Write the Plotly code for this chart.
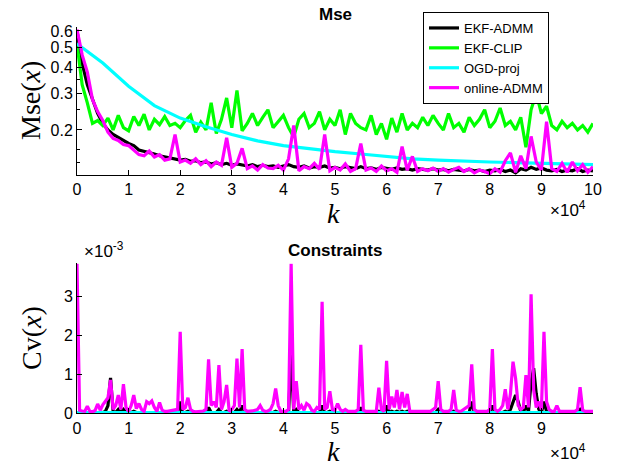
import math
import plotly.graph_objects as go

# ---------------- data ----------------
# top panel: k in units of 1e4, step 0.1
k_top = [i / 10 for i in range(101)]
k_cyan = [i / 2 for i in range(21)]

mse_ekf_admm = [
    0.6, 0.42, 0.33, 0.28, 0.24, 0.215, 0.2, 0.19, 0.183, 0.178,
    0.172, 0.168, 0.16, 0.158, 0.155, 0.153, 0.15, 0.148, 0.146, 0.145,
    0.143, 0.144, 0.141, 0.142, 0.139, 0.14, 0.137, 0.139, 0.136, 0.138,
    0.135, 0.137, 0.136, 0.134, 0.136, 0.133, 0.135, 0.133, 0.134, 0.132,
    0.134, 0.136, 0.133, 0.132, 0.134, 0.131, 0.133, 0.132, 0.134, 0.131,
    0.132, 0.13, 0.133, 0.131, 0.13, 0.133, 0.13, 0.131, 0.129, 0.132,
    0.13, 0.129, 0.131, 0.129, 0.13, 0.128, 0.13, 0.129, 0.128, 0.13,
    0.128, 0.129, 0.127, 0.129, 0.128, 0.127, 0.129, 0.127, 0.128, 0.126,
    0.128, 0.127, 0.129, 0.126, 0.128, 0.124, 0.13, 0.128, 0.132, 0.129,
    0.131, 0.128, 0.127, 0.129, 0.126, 0.128, 0.127, 0.13, 0.126, 0.128,
    0.127,
]
mse_ekf_clip = [
    0.52, 0.33, 0.27, 0.215, 0.222, 0.21, 0.228, 0.2, 0.235, 0.205,
    0.198, 0.232, 0.21, 0.238, 0.2, 0.225, 0.212, 0.232, 0.21, 0.215,
    0.205, 0.222, 0.235, 0.195, 0.218, 0.2, 0.27, 0.192, 0.225, 0.285,
    0.205, 0.31, 0.198, 0.215, 0.24, 0.21, 0.23, 0.25, 0.205, 0.22,
    0.235, 0.205, 0.185, 0.225, 0.24, 0.205, 0.215, 0.245, 0.2, 0.225,
    0.21, 0.25, 0.19, 0.24, 0.215, 0.205, 0.2, 0.235, 0.19, 0.215,
    0.18, 0.228, 0.195, 0.24, 0.2, 0.215, 0.205, 0.23, 0.21, 0.235,
    0.215, 0.2, 0.24, 0.205, 0.215, 0.195, 0.23, 0.21, 0.225, 0.25,
    0.205, 0.22, 0.255, 0.21, 0.22, 0.2, 0.23, 0.165, 0.25, 0.3,
    0.24, 0.26, 0.21, 0.2, 0.22, 0.205, 0.215, 0.2, 0.21, 0.195,
    0.215,
]
mse_ogd_proj = [
    0.52, 0.42, 0.325, 0.262, 0.228, 0.207, 0.19, 0.177, 0.168, 0.162,
    0.157, 0.153, 0.149, 0.145, 0.143, 0.141, 0.14, 0.139, 0.138, 0.137,
    0.136,
]
mse_online_admm = [
    0.61, 0.46, 0.38, 0.28, 0.245, 0.222, 0.195, 0.182, 0.178, 0.17,
    0.168, 0.16, 0.152, 0.15, 0.158, 0.148, 0.152, 0.143, 0.145, 0.19,
    0.14, 0.143, 0.138, 0.145, 0.136, 0.142, 0.133, 0.14, 0.135, 0.183,
    0.132, 0.138, 0.163, 0.13, 0.134, 0.128, 0.136, 0.131, 0.13, 0.135,
    0.128, 0.145, 0.21, 0.127, 0.133, 0.13, 0.138, 0.129, 0.19, 0.127,
    0.132, 0.128, 0.137, 0.126, 0.13, 0.172, 0.128, 0.131, 0.126, 0.134,
    0.127, 0.13, 0.125, 0.166, 0.128, 0.149, 0.126, 0.13, 0.127, 0.131,
    0.126, 0.13, 0.125, 0.129, 0.132, 0.126, 0.13, 0.124, 0.128, 0.126,
    0.123, 0.13, 0.125, 0.142, 0.155, 0.125, 0.15, 0.13, 0.186, 0.14,
    0.128, 0.219, 0.13, 0.126, 0.138, 0.125, 0.14, 0.127, 0.136, 0.125,
    0.133,
]

# bottom panel: k in units of 1e4, step 0.05 ; values in units of 1e-3
k_bot = [i / 20 for i in range(201)]
k_bot_cyan = [i for i in range(11)]

cv_online_admm = [
    3.85, 0.08, 0.06, 0.05, 0.18, 0.05, 0.04, 0.07, 0.24, 0.08,
    0.22, 0.32, 0.4, 0.86, 0.1, 0.2, 0.47, 0.1, 0.75, 0.15,
    0.05, 0.2, 0.47, 0.12, 0.25, 0.1, 0.05, 0.3, 0.25, 0.32,
    0.15, 0.05, 0.28, 0.08, 0.05, 0.05, 0.06, 0.07, 0.08, 0.1,
    2.1, 0.1, 0.15, 0.4, 0.1, 0.05, 0.04, 0.05, 0.05, 0.06,
    0.1, 1.39, 0.2, 0.3, 0.15, 1.24, 0.1, 0.3, 0.73, 0.05,
    0.1, 0.2, 1.41, 0.15, 1.65, 0.1, 0.05, 0.05, 0.06, 0.08,
    0.1, 0.2, 0.08, 0.05, 0.06, 0.1, 0.25, 0.64, 0.2, 0.05,
    0.04, 0.05, 0.1, 3.85, 0.1, 0.83, 0.1, 0.2, 0.08, 0.25,
    0.2, 0.08, 0.05, 0.15, 0.1, 2.87, 0.1, 0.15, 0.57, 0.1,
    0.08, 0.25, 0.1, 0.05, 0.1, 0.05, 0.05, 0.05, 0.05, 0.1,
    1.76, 0.08, 0.05, 0.05, 0.05, 0.05, 0.05, 0.66, 0.1, 0.05,
    1.35, 0.1, 0.43, 0.15, 0.6, 0.1, 0.55, 0.15, 0.5, 0.05,
    0.05, 0.05, 0.05, 0.05, 0.05, 0.05, 0.05, 0.05, 0.1, 0.15,
    0.83, 0.1, 0.05, 0.05, 0.05, 0.1, 0.6, 0.08, 0.05, 0.06,
    0.1, 0.15, 0.2, 1.26, 0.1, 0.05, 0.05, 0.05, 0.05, 0.05,
    0.1, 1.65, 0.1, 0.05, 0.1, 0.2, 0.62, 0.1, 0.5, 1.33,
    0.9, 0.2, 0.1, 0.15, 0.98, 0.15, 3.06, 0.6, 0.15, 0.3,
    0.1, 2.1, 0.3, 0.1, 0.05, 0.05, 0.2, 0.05, 0.05, 0.05,
    0.05, 0.05, 0.05, 0.05, 0.1, 0.67, 0.08, 0.05, 0.05, 0.05,
    0.05,
]
cv_ekf_admm = [
    0.02, 0.02, 0.02, 0.02, 0.02, 0.02, 0.02, 0.02, 0.02, 0.02,
    0.02, 0.05, 0.2, 0.91, 0.05, 0.02, 0.1, 0.02, 0.1, 0.02,
    0.02, 0.02, 0.05, 0.02, 0.02, 0.02, 0.02, 0.02, 0.02, 0.02,
    0.02, 0.02, 0.02, 0.02, 0.02, 0.02, 0.02, 0.02, 0.02, 0.02,
    0.3, 0.02, 0.02, 0.05, 0.02, 0.02, 0.02, 0.02, 0.02, 0.02,
    0.02, 0.15, 0.02, 0.02, 0.02, 0.1, 0.02, 0.02, 0.05, 0.02,
    0.02, 0.02, 0.1, 0.02, 0.2, 0.02, 0.02, 0.02, 0.02, 0.02,
    0.02, 0.02, 0.02, 0.02, 0.02, 0.02, 0.02, 0.05, 0.02, 0.02,
    0.02, 0.02, 0.02, 1.5, 0.05, 0.1, 0.02, 0.02, 0.02, 0.02,
    0.02, 0.02, 0.02, 0.02, 0.02, 0.2, 0.02, 0.02, 0.05, 0.02,
    0.02, 0.02, 0.02, 0.02, 0.02, 0.02, 0.02, 0.02, 0.02, 0.02,
    0.15, 0.02, 0.02, 0.02, 0.02, 0.02, 0.02, 0.05, 0.02, 0.02,
    0.2, 0.02, 0.05, 0.02, 0.05, 0.02, 0.05, 0.02, 0.05, 0.02,
    0.02, 0.02, 0.02, 0.02, 0.02, 0.02, 0.02, 0.02, 0.02, 0.02,
    0.1, 0.02, 0.02, 0.02, 0.02, 0.02, 0.05, 0.02, 0.02, 0.02,
    0.02, 0.02, 0.02, 0.3, 0.02, 0.02, 0.02, 0.02, 0.02, 0.02,
    0.02, 0.2, 0.02, 0.02, 0.02, 0.02, 0.05, 0.02, 0.1, 0.3,
    0.47, 0.3, 0.05, 0.02, 0.2, 0.05, 0.8, 1.16, 0.5, 0.1,
    0.02, 0.3, 0.05, 0.02, 0.02, 0.02, 0.02, 0.02, 0.02, 0.02,
    0.02, 0.02, 0.02, 0.02, 0.02, 0.1, 0.02, 0.02, 0.02, 0.02,
    0.02,
]
cv_ekf_clip = [0.0, 0.0, 0.0, 0.0, 0.0, 0.0, 0.0, 0.0, 0.0, 0.0, 0.0]
cv_ogd_proj = [0.02, 0.02, 0.02, 0.02, 0.02, 0.02, 0.02, 0.02, 0.02, 0.02, 0.02]

names = ["EKF-ADMM", "EKF-CLIP", "OGD-proj", "online-ADMM"]
colors = ["#000000", "#00FF00", "#00FFFF", "#FF00FF"]

x_top_ticks = list(range(11))
x_bot_ticks = list(range(10))
y_top_ticks = [0.2, 0.3, 0.4, 0.5, 0.6]
y_top_minor = [0.14, 0.16, 0.25, 0.35]
y_bot_ticks = [0, 1, 2, 3]

# ---------------- figure ----------------
OFF = 8                      # page body margin of the browser
W, H = 624 - OFF, 467 - OFF  # figure size so it fits the window
fig = go.Figure()
LW = 3.2

top_series = [
    (k_top, mse_ekf_admm),
    (k_top, mse_ekf_clip),
    (k_cyan, mse_ogd_proj),
    (k_top, mse_online_admm),
]
for (xs, ys), n, c in zip(top_series, names, colors):
    fig.add_trace(go.Scatter(x=xs, y=ys, mode="lines", name=n,
                             line=dict(color=c, width=LW),
                             xaxis="x", yaxis="y"))

bot_series = [
    (k_bot, cv_ekf_admm),
    (k_bot_cyan, cv_ekf_clip),
    (k_bot_cyan, cv_ogd_proj),
    (k_bot, cv_online_admm),
]
for (xs, ys), n, c in zip(bot_series, names, colors):
    fig.add_trace(go.Scatter(x=xs, y=ys, mode="lines", name=n,
                             line=dict(color=c, width=LW),
                             xaxis="x2", yaxis="y2", showlegend=False))


def px_x(p):
    return (p - OFF) / W


def px_y(p):
    return 1 - (p - OFF) / H


sans = "Liberation Sans, Arial, sans-serif"
serif = "Liberation Serif, Times New Roman, serif"
tick_font = dict(family=sans, size=16, color="black")
common_x = dict(showline=True, linecolor="black", linewidth=1, ticks="inside",
                ticklen=5, tickcolor="black", showgrid=False, zeroline=False,
                tickfont=tick_font, mirror=False, automargin=False)

fig.update_layout(
    width=W, height=H,
    margin=dict(l=0, r=0, t=0, b=0, autoexpand=False),
    paper_bgcolor="white", plot_bgcolor="white",
    showlegend=True,
    xaxis=dict(domain=[px_x(77), px_x(593)], anchor="y", range=[0, 10],
               tickvals=x_top_ticks, **common_x),
    yaxis=dict(domain=[px_y(175), px_y(27)], anchor="x", type="log",
               range=[math.log10(0.1212), math.log10(0.627)],
               tickvals=y_top_ticks, ticktext=[str(v) for v in y_top_ticks],
               minor=dict(tickvals=y_top_minor, ticks="inside", ticklen=3,
                          tickcolor="black", showgrid=False),
               **common_x),
    xaxis2=dict(domain=[px_x(77), px_x(593)], anchor="y2", range=[0, 10],
                tickvals=x_bot_ticks, **common_x),
    yaxis2=dict(domain=[px_y(413.3), px_y(263.3)], anchor="x2",
                range=[0, 3.86], tickvals=y_bot_ticks, **common_x),
    legend=dict(x=px_x(423), y=px_y(12), xanchor="left", yanchor="top",
                bgcolor="white", bordercolor="black", borderwidth=1,
                font=dict(family=sans, size=13, color="black"),
                tracegroupgap=0, itemwidth=30),
)

ann = [
    dict(x=px_x(335), y=px_y(15), text="<b>Mse</b>", font=dict(family=sans, size=17)),
    dict(x=px_x(335), y=px_y(250), text="<b>Constraints</b>", font=dict(family=sans, size=17)),
    dict(x=px_x(333), y=px_y(213), text="<i>k</i>", font=dict(family=serif, size=28)),
    dict(x=px_x(333), y=px_y(451), text="<i>k</i>", font=dict(family=serif, size=28)),
    dict(x=px_x(31), y=px_y(101), text="Mse(<i>x</i>)", textangle=-90,
         font=dict(family=serif, size=28)),
    dict(x=px_x(31), y=px_y(338), text="Cv(<i>x</i>)", textangle=-90,
         font=dict(family=serif, size=28)),
    dict(x=px_x(568), y=px_y(209), text="×10<sup>4</sup>", font=dict(family=sans, size=17)),
    dict(x=px_x(568), y=px_y(452), text="×10<sup>4</sup>", font=dict(family=sans, size=17)),
    dict(x=px_x(104), y=px_y(250), text="×10<sup>-3</sup>", font=dict(family=sans, size=17)),
]
for a in ann:
    a.update(xref="paper", yref="paper", showarrow=False, xanchor="center",
             yanchor="middle")
    a["font"]["color"] = "black"
fig.update_layout(annotations=ann)

fig.write_html("out.html")
